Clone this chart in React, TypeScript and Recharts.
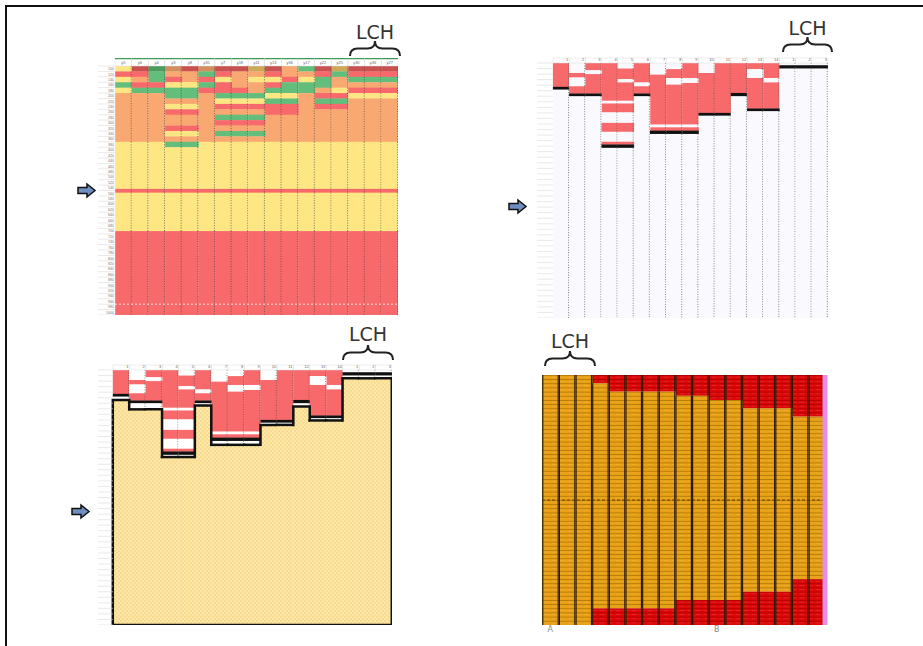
import React from "react";
import { BarChart, ComposedChart, Bar, XAxis, YAxis, ReferenceLine } from "recharts";

type Seg = [string, number];

// ---- top left: colour scale table (one letter per row for the upper rows) ----
const heatColumns = ["y5", "y6", "y4", "y3", "y8", "y35", "y7", "y18", "y11", "y13", "y36", "y17", "y22", "y25", "y30", "y36", "y27"];
const heatTopRows = [
  "YRYGYOOOOOOOOOY",
  "DRORGOOOOOOOOOY",
  "EGGRGOOOOOOOOOY",
  "TORYGGOYROORYOG",
  "DOOYGGOYROORYOG",
  "TGRGROOOOOOOOOY",
  "DRYRRGYROGROGOY",
  "DOOORGYROGROGOY",
  "BOYOOGYROGROGOY",
  "DRYRGYGRROOOOOY",
  "OORGGYGRROOOOOY",
  "GOYGGOOOOOOOOOY",
  "DRGGORGROOOOOOY",
  "BGOOYRGROOOOOOY",
  "DRGORYOOOOOOOOY",
  "DRGORYOOOOOOOOY",
  "DRGORYOOOOOOOOY",
];
// bands shared by every column below the upper rows, [colour, rows]
const heatLowerBands: Seg[] = [["Y", 7.7], ["R", 0.7], ["Y", 7.1], ["R", 15.5]];
const heatRows = 46;
const heatRowLabels = ["100", "120", "140", "160", "180", "200", "220", "240", "260", "280", "300", "320", "340", "360", "380", "400", "420", "440", "460", "480", "500", "520", "540", "560", "580", "600", "620", "640", "660", "680", "700", "720", "740", "760", "780", "800", "820", "840", "860", "880", "900", "920", "940", "960", "980", "1000"];
const heatColors: Record<string, string> = {
  Y: "#FEE683", O: "#F8A870", R: "#F8696B", G: "#63BE7B",
  D: "#C9514F", E: "#4D9C5F", T: "#D28F5D", B: "#CBA958",
};

// ---- top right + bottom left: red blocks, W = empty, K = black base line ----
const blockColumns = ["1", "2", "3", "4", "5", "6", "7", "8", "9", "10", "11", "12", "13", "14", "1", "2", "3"];
const blockSegments: Seg[][] = [
  [["R", 4.3], ["K", 0.5]],
  [["W", 1.8], ["R", 0.8], ["W", 1.6], ["R", 1.3], ["K", 0.5]],
  [["R", 1.3], ["W", 0.7], ["R", 3.5], ["K", 0.5]],
  [["R", 6.8], ["W", 0.5], ["R", 1.6], ["W", 1.9], ["R", 1.6], ["W", 1.8], ["R", 0.5], ["K", 0.6]],
  [["W", 1.0], ["R", 1.9], ["W", 0.6], ["R", 3.3], ["W", 0.5], ["R", 1.6], ["W", 1.9], ["R", 1.6], ["W", 1.8], ["R", 0.5], ["K", 0.6]],
  [["R", 3.5], ["W", 0.7], ["R", 1.3], ["K", 0.5]],
  [["W", 2.1], ["R", 9.0], ["W", 0.5], ["R", 0.6], ["K", 0.6]],
  [["W", 1.1], ["R", 1.6], ["W", 1.2], ["R", 7.2], ["W", 0.5], ["R", 0.6], ["K", 0.6]],
  [["R", 2.7], ["W", 0.9], ["R", 7.5], ["W", 0.5], ["R", 0.6], ["K", 0.6]],
  [["W", 1.8], ["R", 7.2], ["K", 0.5]],
  [["R", 9.0], ["K", 0.5]],
  [["R", 5.4], ["K", 0.6]],
  [["R", 1.1], ["W", 1.6], ["R", 5.5], ["K", 0.5]],
  [["R", 2.7], ["W", 0.8], ["R", 4.7], ["K", 0.5]],
  [["W", 0.4], ["K", 0.6]],
  [["W", 0.4], ["K", 0.6]],
  [["W", 0.4], ["K", 0.6]],
];
const blockRows = 46;
// bottom left: top edge of the hatched region per column
const shelfTops = [5.4, 7.1, 7.1, 15.7, 15.7, 6.4, 13.5, 13.5, 13.5, 9.9, 9.9, 6.6, 9.1, 9.1, 1.5, 1.5, 1.5];

// ---- bottom right: red caps over an orange body ----
const profileColumns = ["A", "", "", "", "", "", "", "", "", "", "B", "", "", "", "", "", ""];
const profileTopRed = [0, 0, 0, 2, 4, 4, 4, 4, 5, 5, 6, 6, 8, 8, 8, 10, 10];
const profileBottomRed = [0, 0, 0, 4, 4, 4, 4, 4, 6, 6, 6, 6, 8, 8, 8, 11, 11];
const profileRows = 60;
const profileColors: Record<string, string> = { O: "#E8A014", R: "#DD0707" };
const profileLines: Record<string, string> = { O: "#A87408", R: "#A80000" };

function runs(codes: string): Seg[] {
  const out: Seg[] = [];
  for (const c of codes) {
    const last = out[out.length - 1];
    if (last && last[0] === c) last[1] += 1;
    else out.push([c, 1]);
  }
  return out;
}

function concat(a: Seg[], b: Seg[]): Seg[] {
  const out: Seg[] = a.map((s) => [s[0], s[1]] as Seg);
  for (const s of b) {
    const last = out[out.length - 1];
    if (last && last[0] === s[0]) last[1] += s[1];
    else out.push([s[0], s[1]]);
  }
  return out;
}

function padTo(segs: Seg[], total: number, filler: string): Seg[] {
  const sum = segs.reduce((a, s) => a + s[1], 0);
  return sum < total - 1e-6 ? concat(segs, [[filler, total - sum]]) : segs;
}

function buildStack(segs: Seg[][]) {
  const depth = Math.max(...segs.map((s) => s.length));
  const data = segs.map((col, i) => {
    const row: Record<string, any> = { key: String(i), idx: i };
    for (let k = 0; k < depth; k++) row[`s${k}`] = col[k] ? col[k][1] : 0;
    return row;
  });
  return { data, depth };
}

function rowTicks(n: number) {
  return Array.from({ length: n + 1 }, (_, i) => i);
}

function norm(props: any) {
  let { y, height } = props;
  if (height < 0) {
    y += height;
    height = -height;
  }
  return { y, height };
}

function CellShape(props: any) {
  const { x, width, bw, fill, dot } = props;
  const { y, height } = norm(props);
  if (!height || !isFinite(height)) return <g />;
  const left = x + width / 2 - bw / 2;
  const edge = left + bw - 0.6;
  return (
    <g>
      <rect x={left} y={y} width={bw + 0.3} height={height + 0.3} fill={fill} />
      {dot ? (
        <line x1={edge} x2={edge} y1={y} y2={y + height} stroke={dot} strokeWidth={0.7} strokeDasharray="1 1.5" />
      ) : null}
    </g>
  );
}

// hatched region under the red blocks, outlined where the step changes
function ShelfShape(props: any) {
  const { x, width, bw, payload, tops, rows } = props;
  const { y, height } = norm(props);
  if (!height || !isFinite(height)) return <g />;
  const i = payload.idx;
  const t = tops[i];
  const ppu = height / (rows - t);
  const left = x + width / 2 - bw / 2;
  const right = left + bw;
  const yAt = (v: number) => y + (v - t) * ppu;
  let d = `M${left},${y} H${right}`;
  if (i === 0) d += ` M${left},${y} V${y + height}`;
  else if (tops[i - 1] > t) d += ` M${left},${y} V${yAt(tops[i - 1])}`;
  if (i === tops.length - 1) d += ` M${right},${y} V${y + height}`;
  else if (tops[i + 1] > t) d += ` M${right},${y} V${yAt(tops[i + 1])}`;
  return (
    <g>
      <rect x={left} y={y} width={bw + 0.3} height={height} fill="url(#shelf-hatch)" />
      <path d={d} stroke="#111" strokeWidth={2.5} fill="none" strokeLinecap="square" />
    </g>
  );
}

function ProfileShape(props: any) {
  const { x, width, bw, fill } = props;
  const { y, height } = norm(props);
  if (!height || !isFinite(height)) return <g />;
  const left = x + width / 2 - bw / 2;
  return (
    <g>
      <rect x={left} y={y} width={bw + 0.3} height={height} fill={fill} />
      <line x1={left + 0.6} x2={left + 0.6} y1={y} y2={y + height} stroke="#2b1a03" strokeWidth={1.2} />
      <line x1={left + bw - 0.6} x2={left + bw - 0.6} y1={y} y2={y + height} stroke="#2b1a03" strokeWidth={1.2} />
    </g>
  );
}

function HeaderTick(props: any) {
  const { x, y, payload, bw, h, labels, topColor, align } = props;
  const label = labels[Number(payload.value)];
  const left = x - bw / 2;
  return (
    <g>
      <rect x={left} y={y - h} width={bw} height={h} fill="#fff" stroke="#d9d9d9" strokeWidth={0.5} />
      {topColor ? <line x1={left} x2={left + bw} y1={y - h + 0.5} y2={y - h + 0.5} stroke={topColor} strokeWidth={1.5} /> : null}
      <text
        x={align === "end" ? left + bw - 1 : x}
        y={y - 2}
        textAnchor={align === "end" ? "end" : "middle"}
        fontSize={4}
        fill="#666"
        fontFamily="Liberation Sans, Arial, sans-serif"
      >
        {label}
      </text>
    </g>
  );
}

function RowTick(props: any) {
  const { x, y, payload, w, rowH, labels } = props;
  const label = labels ? labels[payload.value] : undefined;
  return (
    <g>
      <line x1={x - w} x2={x} y1={y} y2={y} stroke="#dadada" strokeWidth={0.6} />
      {label ? (
        <text x={x - 1} y={y + rowH / 2 + 1.4} textAnchor="end" fontSize={3.6} fill="#777" fontFamily="Liberation Sans, Arial, sans-serif">
          {label}
        </text>
      ) : null}
    </g>
  );
}

function HeatPanel() {
  const segs = heatTopRows.map((s) => concat(runs(s), heatLowerBands));
  const { data, depth } = buildStack(segs);
  const W = 300, H = 257, yw = 17, xh = 8;
  const bw = (W - yw) / heatColumns.length;
  const rowH = (H - xh) / heatRows;
  return (
    <div style={{ position: "absolute", left: 98, top: 58 }}>
      <BarChart width={W} height={H} data={data} margin={{ top: 0, right: 0, bottom: 0, left: 0 }} barCategoryGap={0} barGap={0}>
        <XAxis
          dataKey="key"
          orientation="top"
          height={xh}
          interval={0}
          axisLine={false}
          tickLine={false}
          tickSize={0}
          tickMargin={0}
          tick={(p: any) => <HeaderTick {...p} bw={bw} h={xh} labels={heatColumns} topColor="#3c9a52" />}
        />
        <YAxis
          type="number"
          domain={[0, heatRows]}
          reversed
          allowDataOverflow
          width={yw}
          ticks={rowTicks(heatRows)}
          interval={0}
          axisLine={false}
          tickLine={false}
          tickSize={0}
          tickMargin={0}
          tick={(p: any) => <RowTick {...p} w={yw} rowH={rowH} labels={heatRowLabels} />}
        />
        {Array.from({ length: depth }, (_, k) => (
          <Bar
            key={k}
            dataKey={`s${k}`}
            stackId="a"
            isAnimationActive={false}
            shape={(p: any) => {
              const s = segs[p.payload.idx][k];
              return <CellShape {...p} bw={bw} fill={heatColors[s ? s[0] : "Y"]} dot="#444" />;
            }}
          />
        ))}
        <ReferenceLine y={44} stroke="#ffffff" strokeDasharray="2 2" strokeOpacity={0.8} />
      </BarChart>
    </div>
  );
}

function BlockPanel({ left, top, W, H, yw, withShelf, blank }: any) {
  let segs: Seg[][];
  if (withShelf) {
    // blocks, empty space down to the shelf, then the shelf as the last series
    const upper = blockSegments.map((s, i) => padTo(s, shelfTops[i], "W"));
    const depthUpper = Math.max(...upper.map((s) => s.length));
    segs = upper.map((s, i) => {
      const out: Seg[] = s.map((q) => [q[0], q[1]] as Seg);
      while (out.length < depthUpper) out.push(["W", 0]);
      out.push(["S", blockRows - shelfTops[i]]);
      return out;
    });
  } else {
    segs = blockSegments.map((s) => padTo(s, blockRows, "W"));
  }
  const { data, depth } = buildStack(segs);
  const xh = 8;
  const bw = (W - yw) / blockColumns.length;
  const rowH = (H - xh) / blockRows;
  const colors: Record<string, string> = { R: "#F8696B", K: "#111111", W: blank };
  return (
    <div style={{ position: "absolute", left, top }}>
      <ComposedChart width={W} height={H} data={data} margin={{ top: 0, right: 0, bottom: 0, left: 0 }} barCategoryGap={0} barGap={0}>
        <defs>
          <pattern id="shelf-hatch" patternUnits="userSpaceOnUse" width={4} height={4}>
            <rect width={4} height={4} fill="#FDE7A6" />
            <circle cx={1} cy={1} r={0.65} fill="#F0C665" />
            <circle cx={3} cy={3} r={0.65} fill="#F0C665" />
          </pattern>
        </defs>
        <XAxis
          dataKey="key"
          orientation="top"
          height={xh}
          interval={0}
          axisLine={false}
          tickLine={false}
          tickSize={0}
          tickMargin={0}
          tick={(p: any) => <HeaderTick {...p} bw={bw} h={xh - 3} labels={blockColumns} align="end" />}
        />
        <YAxis
          type="number"
          domain={[0, blockRows]}
          reversed
          allowDataOverflow
          width={yw}
          ticks={rowTicks(blockRows)}
          interval={0}
          axisLine={false}
          tickLine={false}
          tickSize={0}
          tickMargin={0}
          tick={(p: any) => <RowTick {...p} w={yw} rowH={rowH} />}
        />
        {Array.from({ length: depth }, (_, k) => (
          <Bar
            key={k}
            dataKey={`s${k}`}
            stackId="a"
            isAnimationActive={false}
            shape={(p: any) => {
              const s = segs[p.payload.idx][k];
              if (s && s[0] === "S") return <ShelfShape {...p} bw={bw} tops={shelfTops} rows={blockRows} />;
              return <CellShape {...p} bw={bw} fill={colors[s ? s[0] : "W"]} dot="#555" />;
            }}
          />
        ))}
        {withShelf ? <ReferenceLine y={blockRows} stroke="#111" strokeWidth={2.5} /> : null}
      </ComposedChart>
    </div>
  );
}

function ProfilePanel() {
  const segs: Seg[][] = profileTopRed.map((t, i) => [
    ["R", t],
    ["O", profileRows - t - profileBottomRed[i]],
    ["R", profileBottomRed[i]],
  ]);
  const { data, depth } = buildStack(segs);
  const W = 289, H = 260, ryw = 6, xh = 10;
  const bw = (W - ryw) / profileColumns.length;
  const rowH = (H - xh) / profileRows;
  return (
    <div style={{ position: "absolute", left: 542, top: 375 }}>
      <BarChart width={W} height={H} data={data} margin={{ top: 0, right: 0, bottom: 0, left: 0 }} barCategoryGap={0} barGap={0}>
        <defs>
          {["O", "R"].map((c) => (
            <pattern key={c} id={`rows-${c}`} patternUnits="userSpaceOnUse" width={8} height={rowH}>
              <rect width={8} height={rowH} fill={profileColors[c]} />
              <rect width={8} height={0.7} fill={profileLines[c]} />
              <rect x={1.5} y={rowH / 2 - 0.3} width={5} height={0.6} fill="#ffffff" opacity={0.18} />
            </pattern>
          ))}
        </defs>
        <XAxis
          dataKey="key"
          height={xh}
          interval={0}
          axisLine={false}
          tickLine={false}
          tickSize={0}
          tickMargin={1}
          tickFormatter={(v: any) => profileColumns[Number(v)]}
          tick={{ fontSize: 8, fill: "#8a8a8a", fontFamily: "DejaVu Sans, sans-serif" }}
        />
        <YAxis type="number" domain={[0, profileRows]} reversed allowDataOverflow hide />
        <YAxis yAxisId="r" orientation="right" width={ryw} tick={false} tickLine={false} axisLine={{ stroke: "#E48CE6", strokeWidth: 5 }} />
        {Array.from({ length: depth }, (_, k) => (
          <Bar
            key={k}
            dataKey={`s${k}`}
            stackId="a"
            isAnimationActive={false}
            shape={(p: any) => {
              const s = segs[p.payload.idx][k];
              return <ProfileShape {...p} bw={bw} fill={`url(#rows-${s ? s[0] : "O"})`} />;
            }}
          />
        ))}
        <ReferenceLine y={profileRows / 2} stroke="#4a3000" strokeDasharray="3 2" strokeWidth={0.8} />
      </BarChart>
    </div>
  );
}

const lchMarks = [
  { x: 350, w: 50, textY: 39, braceY: 41 },
  { x: 783, w: 49, textY: 35, braceY: 37 },
  { x: 343, w: 50, textY: 341, braceY: 345 },
  { x: 545, w: 50, textY: 348, braceY: 351 },
];
const arrowMarks = [
  { x: 78, y: 184 },
  { x: 509, y: 200 },
  { x: 72, y: 505 },
];

function brace(x0: number, y0: number, w: number, h: number) {
  const r = h / 2;
  const ym = y0 + h / 2;
  const mid = x0 + w / 2;
  return `M${x0},${y0 + h} Q${x0},${ym} ${x0 + r},${ym} L${mid - r},${ym} Q${mid},${ym} ${mid},${y0} Q${mid},${ym} ${mid + r},${ym} L${x0 + w - r},${ym} Q${x0 + w},${ym} ${x0 + w},${y0 + h}`;
}

function Overlay() {
  return (
    <svg width={923} height={646} style={{ position: "absolute", left: 0, top: 0, pointerEvents: "none" }}>
      <path d="M6,646 V6 H923" stroke="#111" strokeWidth={2} fill="none" />
      {lchMarks.map((m, i) => (
        <g key={i}>
          <text x={m.x + m.w / 2} y={m.textY} textAnchor="middle" fontSize={19} fill="#333" fontFamily="DejaVu Sans, Verdana, sans-serif">
            LCH
          </text>
          <path d={brace(m.x, m.braceY, m.w, 15)} stroke="#222" strokeWidth={2} fill="none" />
        </g>
      ))}
      {arrowMarks.map((a, i) => (
        <polygon
          key={i}
          points={`${a.x},${a.y + 3.5} ${a.x + 9},${a.y + 3.5} ${a.x + 9},${a.y} ${a.x + 17},${a.y + 6.5} ${a.x + 9},${a.y + 13} ${a.x + 9},${a.y + 9.5} ${a.x},${a.y + 9.5}`}
          fill="#6E8EC2"
          stroke="#111"
          strokeWidth={1.5}
          strokeLinejoin="miter"
        />
      ))}
    </svg>
  );
}

export default function App() {
  return (
    <div style={{ position: "absolute", left: 0, top: 0, width: 923, height: 646, background: "#fff", overflow: "hidden" }}>
      <HeatPanel />
      <BlockPanel left={537} top={55} W={291} H={263} yw={16} blank="#FAFAFE" />
      <BlockPanel left={98} top={362} W={294} H={263} yw={15} blank="#FFFFFF" withShelf />
      <ProfilePanel />
      <Overlay />
    </div>
  );
}
